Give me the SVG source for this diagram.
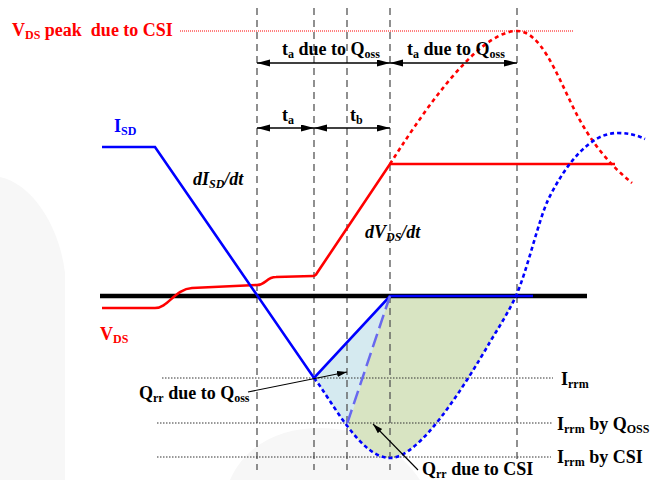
<svg xmlns="http://www.w3.org/2000/svg" width="657" height="480" viewBox="0 0 657 480">
<style>
text{font-family:"Liberation Serif","Times New Roman",serif;font-weight:bold;font-size:18px;white-space:pre}
.sub{font-size:12px}
.red{fill:#ff0000}
.blu{fill:#0000ff}
.blk{fill:#000}
.vdash{stroke:#555;stroke-width:1.3;stroke-dasharray:7 5;fill:none}
.hdot{stroke:#333;stroke-width:1;stroke-dasharray:1.5 1.5;fill:none}
.dim{stroke:#000;stroke-width:1.3;fill:none;marker-start:url(#ah);marker-end:url(#ah)}
.ann{stroke:#000;stroke-width:1.1;fill:none;marker-end:url(#ah2)}
</style>
<defs>
<marker id="ah" markerUnits="userSpaceOnUse" markerWidth="14" markerHeight="8" refX="13" refY="3.5" orient="auto-start-reverse"><path d="M0,0 L13,3.5 L0,7 Z" fill="#000"/></marker>
<marker id="ah2" markerUnits="userSpaceOnUse" markerWidth="11" markerHeight="7" refX="10" refY="3" orient="auto"><path d="M0,0 L10,3 L0,6 Z" fill="#000"/></marker>
<clipPath id="under"><path d="M314,378 C331,399 360,458 390,458 C420,458 465,385 490,342 C499,327 508,313 516,296 L390,296 Z"/></clipPath>
</defs>
<rect width="657" height="480" fill="#fff"/>
<g id="background" fill="#f7f7f7">
<path d="M0,177 C35,185 60,230 65,273 L65,480 L0,480 Z"/>
<path d="M230,480 C245,445 280,428 320,428 C365,428 400,450 420,480 Z"/>
</g>
<g id="areas">
<path d="M314,378 C331,399 360,458 390,458 C420,458 465,385 490,342 C499,327 508,313 516,296 L390,296 Z" fill="#d8e4c2"/>
<path d="M390,296 L346,432 L300,440 L300,290 Z" fill="#d5eaf0" clip-path="url(#under)"/>
</g>
<g id="gridlines">
<line class="vdash" x1="257" y1="8" x2="257" y2="470"/>
<line class="vdash" x1="314" y1="8" x2="314" y2="470"/>
<line class="vdash" x1="347" y1="8" x2="347" y2="470"/>
<line class="vdash" x1="390" y1="8" x2="390" y2="470"/>
<line class="vdash" x1="517" y1="8" x2="517" y2="460"/>
<line x1="180" y1="31" x2="574" y2="31" stroke="#ff0000" stroke-width="1" stroke-dasharray="1 1"/>
<line class="hdot" x1="162" y1="378" x2="553" y2="378"/>
<line class="hdot" x1="157" y1="423" x2="553" y2="423"/>
<line class="hdot" x1="157" y1="457" x2="551" y2="457"/>
</g>
<g id="axis">
<line x1="100" y1="296" x2="587" y2="296" stroke="#000" stroke-width="4.5"/>
</g>
<g id="vds">
<path d="M102,308 L155,308 C168,308 175,289 192,288 L257,285 C266,285 266,277 276,277 L313,276 C315,276 316,275 317,273 L390,164 L615,164" fill="none" stroke="#ff0000" stroke-width="2.6"/>
<path d="M390,164 C415,125 475,31 517,31 C540,31 555,70 573,107 C590,142 610,165 632,183" fill="none" stroke="#ff0000" stroke-width="2.6" stroke-dasharray="4 3.5"/>
</g>
<g id="isd">
<path d="M102,147 L155,147 L314,378 L390,296 L533,296" fill="none" stroke="#0000ff" stroke-width="2.6"/>
<path d="M314,378 C331,399 360,458 390,458 C420,458 465,385 490,342 C499,327 508,313 516,296 C528,268 538,222 548,200 C565,165 590,133 617,133 C628,133 637,135 645,139" fill="none" stroke="#0000ff" stroke-width="2.6" stroke-dasharray="4 3"/>
<line x1="390" y1="296" x2="347" y2="424" stroke="#6868ee" stroke-width="2.5" stroke-dasharray="14 6"/>
</g>
<g id="connectors">
<line class="dim" x1="257" y1="63" x2="390" y2="63"/>
<line class="dim" x1="390" y1="63" x2="517" y2="63"/>
<line class="dim" x1="257" y1="128" x2="314" y2="128"/>
<line class="dim" x1="314" y1="128" x2="390" y2="128"/>
<line class="ann" x1="248" y1="392" x2="347" y2="372"/>
<line class="ann" x1="418" y1="470" x2="373" y2="424"/>
</g>
<g id="labels">
<text class="red" x="12" y="36" xml:space="preserve">V<tspan class="sub" dy="3">DS</tspan><tspan dy="-3"> peak  due to CSI</tspan></text>
<text class="blk" x="282" y="55">t<tspan class="sub" dy="3">a</tspan><tspan dy="-3"> due to Q</tspan><tspan class="sub" dy="3">oss</tspan></text>
<text class="blk" x="407" y="55">t<tspan class="sub" dy="3">a</tspan><tspan dy="-3"> due to Q</tspan><tspan class="sub" dy="3">oss</tspan></text>
<text class="blk" x="282" y="121">t<tspan class="sub" dy="3">a</tspan></text>
<text class="blk" x="350" y="121">t<tspan class="sub" dy="3">b</tspan></text>
<text class="blu" x="114" y="132">I<tspan class="sub" dy="3">SD</tspan></text>
<text class="blk" x="193" y="185" font-style="italic">dI<tspan class="sub" dy="3">SD</tspan><tspan dy="-3">/dt</tspan></text>
<text class="blk" x="365" y="238" font-style="italic">dV<tspan class="sub" dy="3">DS</tspan><tspan dy="-3">/dt</tspan></text>
<text class="red" x="100" y="340">V<tspan class="sub" dy="3">DS</tspan></text>
<text class="blk" x="561" y="385">I<tspan class="sub" dy="3">rrm</tspan></text>
<text class="blk" x="557" y="430">I<tspan class="sub" dy="3">rrm</tspan><tspan dy="-3"> by Q</tspan><tspan class="sub" dy="3">OSS</tspan></text>
<text class="blk" x="557" y="463">I<tspan class="sub" dy="3">rrm</tspan><tspan dy="-3"> by CSI</tspan></text>
<text class="blk" x="139" y="399">Q<tspan class="sub" dy="3">rr</tspan><tspan dy="-3"> due to Q</tspan><tspan class="sub" dy="3">oss</tspan></text>
<text class="blk" x="422" y="475">Q<tspan class="sub" dy="3">rr</tspan><tspan dy="-3"> due to CSI</tspan></text>
</g>
</svg>
